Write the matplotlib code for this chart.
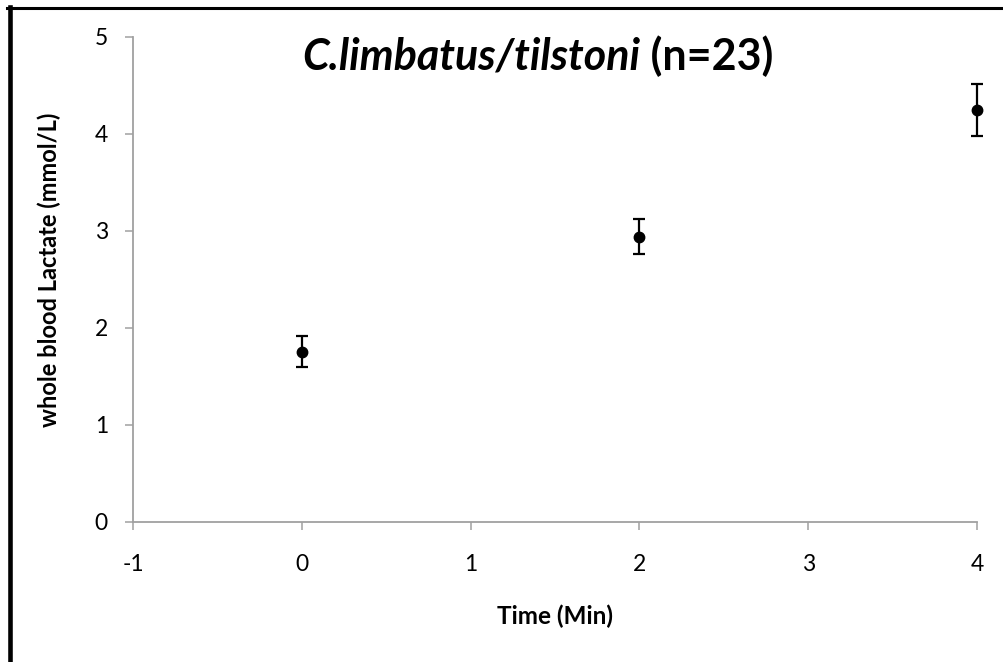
import matplotlib
matplotlib.use('Agg')
import matplotlib.pyplot as plt
from matplotlib.lines import Line2D

# data
time_min = [0, 2, 4]
lactate = [1.75, 2.94, 4.245]
lactate_err = [0.16, 0.18, 0.265]

x_ticks = [-1, 0, 1, 2, 3, 4]
y_ticks = [0, 1, 2, 3, 4, 5]

plt.rcParams['font.family'] = ['Lato', 'DejaVu Sans']
plt.rcParams['axes.unicode_minus'] = False

W, H = 1004, 662
fig = plt.figure(figsize=(W / 100, H / 100), dpi=100)
ax = fig.add_axes([133 / W, 1 - 521.7 / H, (977 - 133) / W, (521.7 - 36.7) / H])

ax.errorbar(time_min, lactate, yerr=lactate_err, fmt='o', color='black',
            markersize=7.5, elinewidth=1.6, capsize=4.5, capthick=1.6,
            clip_on=False, zorder=3)

ax.set_xlim(-1, 4)
ax.set_ylim(0, 5)
ax.set_xticks(x_ticks)
ax.set_yticks(y_ticks)
ax.tick_params(direction='out', length=5.5, width=1.1, color='#a0a0a0',
               labelsize=16.5, labelcolor='black')
ax.tick_params(axis='y', pad=12.5)
ax.tick_params(axis='x', pad=18)
for side in ['top', 'right']:
    ax.spines[side].set_visible(False)
for side in ['left', 'bottom']:
    ax.spines[side].set_color('#a0a0a0')
    ax.spines[side].set_linewidth(1.3)

ax.set_xlabel('Time (Min)', fontsize=17.5, fontweight='bold', labelpad=21)
ax.set_ylabel('whole blood Lactate (mmol/L)', fontsize=17, fontweight='bold',
              labelpad=15)
ax.yaxis.set_label_coords(-0.085, 0.52)

# title: italic species name followed by the sample size
t1 = fig.text(640 / W, 1 - 70 / H, 'C.limbatus/tilstoni', fontsize=31,
              fontweight='bold', style='italic', ha='right', va='baseline')
t2 = fig.text(640 / W, 1 - 70 / H, ' (n=23)', fontsize=31,
              fontweight='bold', ha='left', va='baseline')

# chart frame (only the left and top edges are visible)
fig.add_artist(Line2D([9.5 / W, 9.5 / W], [0, 1 - 7 / H], color='black',
                      linewidth=3.3, transform=fig.transFigure))
fig.add_artist(Line2D([7 / W, 1], [1 - 8 / H, 1 - 8 / H], color='black',
                      linewidth=2.2, transform=fig.transFigure))

fig.savefig('out.png', dpi=100)
